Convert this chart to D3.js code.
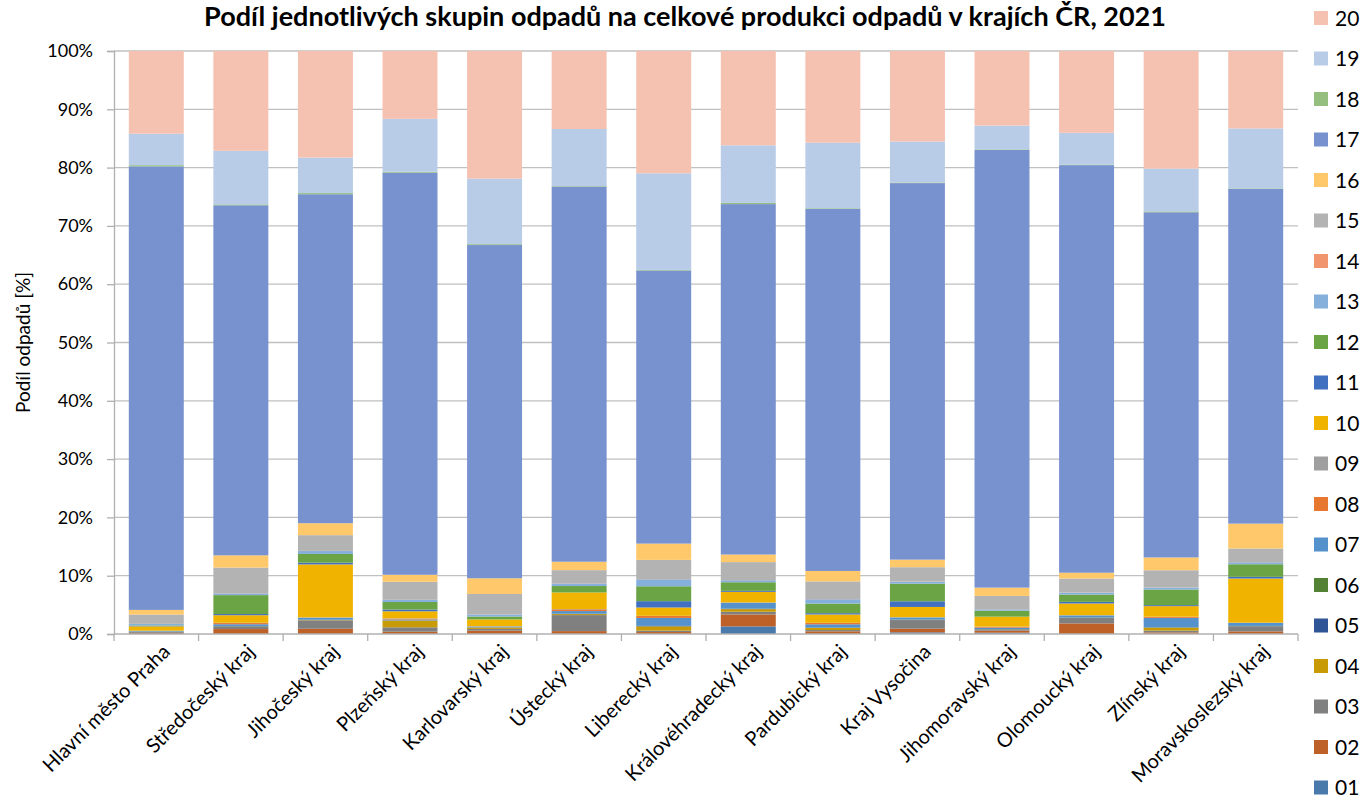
<!DOCTYPE html>
<html>
<head>
<meta charset="utf-8">
<script src="https://cdn.jsdelivr.net/npm/d3@7"></script>
<style>
  body { margin: 0; background: #fff; }
  svg { display: block; font-family: Lato, "Open Sans", sans-serif; }
  .title { font-weight: bold; font-size: 27px; fill: #000; }
  .tick-label { font-size: 18px; fill: #000; }
  .axis-title { font-size: 19px; fill: #000; }
  .cat-label { font-size: 20px; fill: #000; }
  .legend-label { font-size: 21px; fill: #000; }
</style>
</head>
<body>
<svg id="chart" width="1363" height="801"></svg>
<script>
// regions (categories)
var regions = ['Hlavní město Praha', 'Středočeský kraj', 'Jihočeský kraj', 'Plzeňský kraj',
               'Karlovarský kraj', 'Ústecký kraj', 'Liberecký kraj', 'Královéhradecký kraj',
               'Pardubický kraj', 'Kraj Vysočina', 'Jihomoravský kraj', 'Olomoucký kraj',
               'Zlínský kraj', 'Moravskoslezský kraj'];

// waste groups (legend keys)
var groups = ['01', '02', '03', '04', '05', '06', '07', '08', '09', '10',
              '11', '12', '13', '14', '15', '16', '17', '18', '19', '20'];

// share of each group per region [%]
var g01 = [0, 0, 0, 0, 0, 0, 0, 1.31, 0, 0.28, 0.23, 0, 0, 0];
var g02 = [0.2, 0.85, 0.9, 0.4, 0.57, 0.5, 0.34, 2.05, 0.46, 0.63, 0.34, 1.82, 0.28, 0.45];
var g03 = [0.2, 0.45, 1.45, 0.75, 0.3, 2.75, 0.23, 0.46, 0.22, 1.48, 0.23, 0.97, 0.3, 0.86];
var g04 = [0, 0, 0.05, 1.15, 0.25, 0.17, 0.74, 0.45, 0.35, 0, 0, 0, 0.5, 0];
var g05 = [0.02, 0.03, 0.02, 0.02, 0.01, 0.03, 0.05, 0.02, 0.03, 0.05, 0.02, 0.02, 0.05, 0.03];
var g06 = [0.02, 0.05, 0.03, 0.03, 0.02, 0.04, 0.03, 0.05, 0.04, 0.05, 0.03, 0.04, 0.04, 0.05];
var g07 = [0.1, 0.3, 0.35, 0.15, 0.1, 0.45, 1.37, 1.03, 0.57, 0.35, 0.23, 0.34, 1.6, 0.51];
var g08 = [0, 0.2, 0, 0.15, 0, 0.3, 0.34, 0, 0.22, 0, 0.16, 0, 0.17, 0];
var g09 = [0.03, 0.05, 0.05, 0.05, 0.1, 0.05, 0.03, 0.05, 0.03, 0.05, 0.03, 0.05, 0.03, 0.05];
var g10 = [0.75, 1.3, 9.1, 1.2, 1.15, 2.85, 1.42, 1.82, 1.43, 1.76, 1.71, 2.0, 1.82, 7.58];
var g11 = [0.05, 0.2, 0.3, 0.3, 0, 0, 1.09, 0.17, 0.23, 0.97, 0, 0.28, 0.17, 0.29];
var g12 = [0.1, 3.25, 1.5, 1.3, 0.5, 1.1, 2.56, 1.48, 1.65, 3.03, 1.03, 1.26, 2.68, 2.16];
var g13 = [0.25, 0.3, 0.5, 0.35, 0.35, 0.45, 1.2, 0.35, 0.74, 0.33, 0.23, 0.33, 0.34, 0.34];
var g14 = [0.02, 0.03, 0.03, 0.02, 0.02, 0.03, 0.03, 0.03, 0.03, 0.03, 0.02, 0.02, 0.03, 0.03];
var g15 = [1.6, 4.4, 2.7, 3.1, 3.5, 2.25, 3.3, 3.08, 3.03, 2.47, 2.28, 2.4, 2.94, 2.34];
var g16 = [0.8, 2.1, 2.05, 1.2, 2.7, 1.45, 2.8, 1.3, 1.8, 1.3, 1.42, 1.0, 2.2, 4.27];
var g17 = [76.15, 60.15, 56.5, 69.05, 57.18, 64.43, 46.91, 60.2, 62.2, 64.7, 75.14, 70.0, 59.3, 57.5];
var g18 = [0.2, 0.15, 0.2, 0.15, 0.15, 0.1, 0.1, 0.2, 0.1, 0.1, 0.1, 0.1, 0.15, 0.1];
var g19 = [5.4, 9.2, 6.1, 9.1, 11.25, 9.8, 16.6, 9.9, 11.25, 7.05, 4.1, 5.45, 7.35, 10.3];
var g20 = [14.2, 17.15, 18.3, 11.65, 21.9, 13.4, 21.0, 16.2, 15.75, 15.55, 12.8, 14.05, 20.2, 13.3];

var yTicks = [0, 0.1, 0.2, 0.3, 0.4, 0.5, 0.6, 0.7, 0.8, 0.9, 1];

var colors = ['#4a7aab', '#be6128', '#808080', '#c89a06', '#2f5597',
              '#548235', '#5592cb', '#e8782f', '#9f9f9f', '#f0b400',
              '#4170c0', '#6aa444', '#85b0dc', '#f0956e', '#b3b3b3',
              '#ffc96b', '#7891cf', '#94bf7f', '#b8cce8', '#f5c1b1'];

var series = [g01, g02, g03, g04, g05, g06, g07, g08, g09, g10,
              g11, g12, g13, g14, g15, g16, g17, g18, g19, g20];

// one row per region, keyed by group
var table = regions.map(function(r, i) {
  var row = { region: r };
  groups.forEach(function(g, j) { row[g] = series[j][i]; });
  return row;
});

var plotLeft = 114, plotRight = 1298, plotTop = 51, plotBottom = 634;

var svg = d3.select('#chart');

var x = d3.scaleBand().domain(regions).range([plotLeft, plotRight]).paddingInner(0.35).paddingOuter(0.175);
var y = d3.scaleLinear().domain([0, 1]).range([plotBottom, plotTop]);
var color = d3.scaleOrdinal().domain(groups).range(colors);

var stack = d3.stack().keys(groups).offset(d3.stackOffsetExpand);
var layers = stack(table);

// title
svg.append('text')
   .attr('class', 'title')
   .attr('x', 685)
   .attr('y', 26)
   .attr('text-anchor', 'middle')
   .text('Podíl jednotlivých skupin odpadů na celkové produkci odpadů v krajích ČR, 2021');

// gridlines
svg.append('g')
   .selectAll('line')
   .data(yTicks.slice(1))
   .enter()
   .append('line')
   .attr('x1', plotLeft)
   .attr('x2', plotRight)
   .attr('y1', function(d) { return y(d); })
   .attr('y2', function(d) { return y(d); })
   .attr('stroke', '#c0c0c0')
   .attr('stroke-width', 1.3);

// bars
svg.append('g')
   .selectAll('g')
   .data(layers)
   .enter()
   .append('g')
   .attr('fill', function(d) { return color(d.key); })
   .selectAll('rect')
   .data(function(d) { return d; })
   .enter()
   .append('rect')
   .attr('x', function(d) { return x(d.data.region); })
   .attr('width', x.bandwidth())
   .attr('y', function(d) { return y(d[1]); })
   .attr('height', function(d) { return Math.max(0, y(d[0]) - y(d[1])); });

// y axis
var yAxis = d3.axisLeft(y)
              .tickValues(yTicks)
              .tickFormat(d3.format('.0%'))
              .tickSize(7)
              .tickPadding(14);

var gy = svg.append('g')
            .attr('transform', 'translate(' + plotLeft + ',0)')
            .call(yAxis);
gy.attr('font-family', null).attr('font-size', null);
gy.select('.domain').attr('stroke', '#b0b0b0').attr('stroke-width', 1.3);
gy.selectAll('.tick line').attr('stroke', '#b0b0b0').attr('stroke-width', 1.3);
gy.selectAll('.tick text').attr('class', 'tick-label');

// x axis line and ticks at band boundaries
var step = x.step();
var bounds = regions.map(function(r) { return x(r) - step * 0.175; });
bounds.push(plotRight);

svg.append('line')
   .attr('x1', plotLeft)
   .attr('x2', plotRight)
   .attr('y1', plotBottom)
   .attr('y2', plotBottom)
   .attr('stroke', '#b0b0b0')
   .attr('stroke-width', 1.3);

svg.append('g')
   .selectAll('line')
   .data(bounds)
   .enter()
   .append('line')
   .attr('x1', function(d) { return d; })
   .attr('x2', function(d) { return d; })
   .attr('y1', plotBottom)
   .attr('y2', plotBottom + 7)
   .attr('stroke', '#b0b0b0')
   .attr('stroke-width', 1.3);

// rotated category labels
svg.append('g')
   .selectAll('text')
   .data(regions)
   .enter()
   .append('text')
   .attr('class', 'cat-label')
   .attr('text-anchor', 'end')
   .attr('transform', function(d) {
     return 'translate(' + (x(d) + x.bandwidth() / 2 + 10) + ',' + (plotBottom + 14) + ') rotate(-45)';
   })
   .attr('dy', '0.35em')
   .text(function(d) { return d; });

// y axis title
svg.append('text')
   .attr('class', 'axis-title')
   .attr('transform', 'translate(30,' + ((plotTop + plotBottom) / 2) + ') rotate(-90)')
   .attr('text-anchor', 'middle')
   .text('Podíl odpadů [%]');

// legend, 20 on top
var legend = svg.append('g')
                .selectAll('g')
                .data(groups.slice().reverse())
                .enter()
                .append('g')
                .attr('transform', function(d, i) { return 'translate(1314,' + (18 + i * 40.5) + ')'; });

legend.append('rect')
      .attr('x', 0)
      .attr('y', -7)
      .attr('width', 14)
      .attr('height', 14)
      .attr('fill', function(d) { return color(d); });

legend.append('text')
      .attr('class', 'legend-label')
      .attr('x', 21)
      .attr('dy', '0.36em')
      .text(function(d) { return d; });
</script>
</body>
</html>
